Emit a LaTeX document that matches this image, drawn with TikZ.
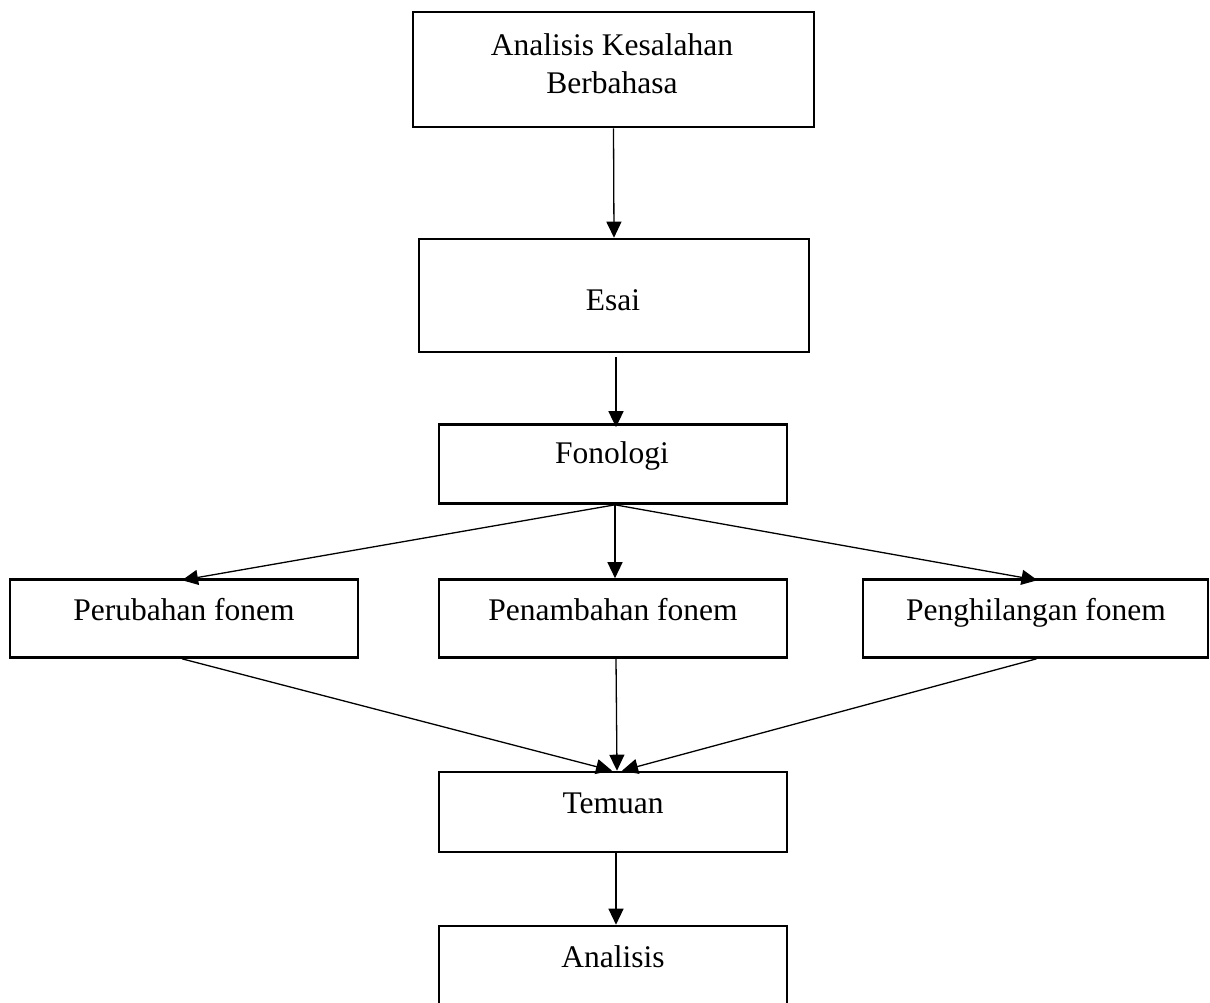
\documentclass[tikz,border=0pt]{standalone}
\usepackage{fontspec}
\setmainfont{Liberation Serif}
\usetikzlibrary{arrows.meta}
\begin{document}
\begin{tikzpicture}[x=1pt,y=-1pt,
  box/.style={draw, line width=2.6pt, rectangle, inner sep=0pt},
  lab/.style={anchor=base, inner sep=0pt, font=\fontsize{31.5}{38}\selectfont, align=center},
  arr/.style={line width=1.3pt, -{Triangle[length=16pt,width=15pt]}}]
\useasboundingbox (0,0) rectangle (1210,1002);
\fill[white] (0,0) rectangle (1210,1002);
% boxes
\node[box, minimum width=401pt, minimum height=115pt] (b1) at (613.5,69.5) {};
\node[box, minimum width=390pt, minimum height=113pt] (esai) at (614,295.5) {};
\node[box, minimum width=348pt, minimum height=79pt] (fon) at (613,464) {};
\node[box, minimum width=348pt, minimum height=78pt] (per) at (184,618.5) {};
\node[box, minimum width=348pt, minimum height=78pt] (pen) at (613,618.5) {};
\node[box, minimum width=345pt, minimum height=78pt] (peng) at (1035.5,618.5) {};
\node[box, minimum width=348pt, minimum height=80pt] (tem) at (613,812) {};
\node[box, minimum width=348pt, minimum height=94pt] (ana) at (613,973) {};
% labels
\node[lab] (t1) at (612,55) {Analisis Kesalahan};
\node[lab] (t1b) at (612,93) {Berbahasa};
\node[lab] (tesai) at (613,310) {Esai};
\node[lab] (tfon) at (612,463) {Fonologi};
\node[lab] (tper) at (184,620) {Perubahan fonem};
\node[lab] (tpen) at (613,620) {Penambahan fonem};
\node[lab] (tpeng) at (1036,620) {Penghilangan fonem};
\node[lab] (ttem) at (613,813) {Temuan};
\node[lab] (tana) at (613,967) {Analisis};
% connectors
\coordinate (fs) at ([xshift=2pt]fon.south);
\draw[arr] (b1.south) -- (esai.north);
\draw[arr] ([shift={(2pt,-4pt)}]esai.south) -- ([shift={(3pt,-4pt)}]fon.north);
\draw[arr] (fs) -- ([shift={(-2pt,-2pt)}]per.north);
\draw[arr] (fs) -- ([xshift=2pt]pen.north);
\draw[arr] (fs) -- ([shift={(2pt,-2pt)}]peng.north);
\draw[arr] ([xshift=-2pt]per.south) -- ([xshift=-1pt]tem.north);
\draw[arr] ([xshift=3pt]pen.south) -- ([xshift=4pt]tem.north);
\draw[arr] ([xshift=1pt]peng.south) -- ([xshift=9pt]tem.north);
\draw[arr] ([xshift=3pt]tem.south) -- ([xshift=3pt]ana.north);
\end{tikzpicture}
\end{document}
